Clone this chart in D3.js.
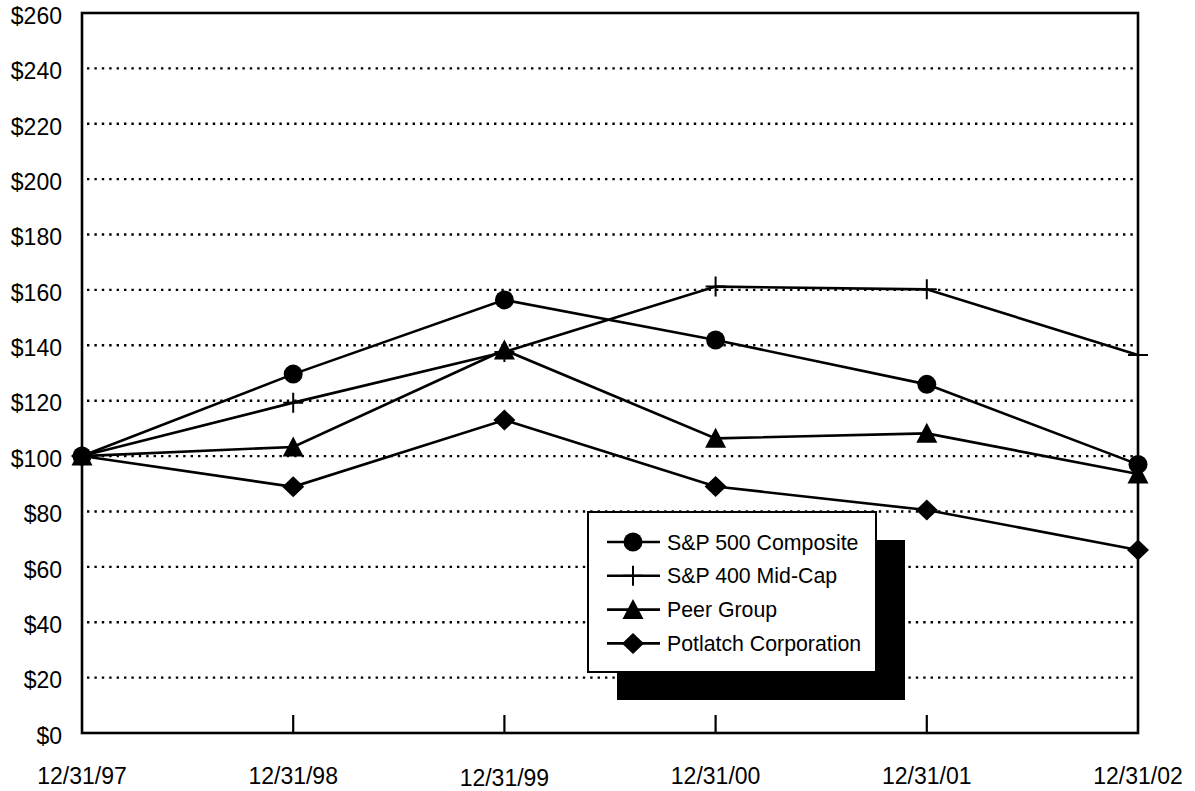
<!DOCTYPE html>
<html><head><meta charset="utf-8">
<script src="https://cdn.jsdelivr.net/npm/d3@7"></script>
<style>body{margin:0;background:#fff}svg{display:block}text{font-family:"Liberation Sans",Arial,Helvetica,sans-serif;fill:#000}</style>
</head><body>
<svg id="c" width="1195" height="791"></svg>
<script>
const categories = ["12/31/97","12/31/98","12/31/99","12/31/00","12/31/01","12/31/02"];
const sp500 = [100, 129.6, 156.4, 141.9, 125.9, 97.0];
const sp400 = [100, 119.3, 137.6, 161.2, 160.2, 136.5];
const peer = [100, 103.3, 138.3, 106.4, 108.2, 93.5];
const potlatch = [100, 88.9, 113.0, 89.0, 80.5, 66.1];
const seriesNames = ["S&P 500 Composite","S&P 400 Mid-Cap","Peer Group","Potlatch Corporation"];
const seriesValues = [sp500, sp400, peer, potlatch];
const seriesMarkers = ["circle","cross","triangle","diamond"];
const yTicks = [0,20,40,60,80,100,120,140,160,180,200,220,240,260];

const svg = d3.select("#c");
const L=82, R=1138, T=13, B=733;
const x = d3.scalePoint().domain(categories).range([L,R]);
const y = d3.scaleLinear().domain([0,260]).range([B,T]);

// gridlines
svg.append("g").selectAll("line").data(yTicks.filter(d=>d>0 && d<260)).join("line")
  .attr("x1",L+5).attr("x2",R-2).attr("y1",d=>y(d)).attr("y2",d=>y(d))
  .attr("stroke","#000").attr("stroke-width",2.4).attr("stroke-dasharray","2.4,5");

// y labels
svg.append("g").selectAll("text").data(yTicks).join("text")
  .attr("x",62).attr("y",d=>y(d)+10.8).attr("text-anchor","end")
  .attr("font-size",23).text(d=>"$"+d);

// x labels
svg.append("g").selectAll("text").data(categories).join("text")
  .attr("x",d=>x(d)).attr("y",(d,i)=>i===2?786:784).attr("text-anchor","middle")
  .attr("font-size",23).text(d=>d);

// x ticks
svg.append("g").selectAll("line").data(categories.slice(1,-1)).join("line")
  .attr("x1",d=>x(d)).attr("x2",d=>x(d)).attr("y1",B).attr("y2",B-18)
  .attr("stroke","#000").attr("stroke-width",2.2);

// frame
svg.append("rect").attr("x",L).attr("y",T).attr("width",R-L).attr("height",B-T)
  .attr("fill","none").attr("stroke","#000").attr("stroke-width",2.6);

function marker(g, type, cx, cy){
  if(type==="circle") g.append("circle").attr("cx",cx).attr("cy",cy).attr("r",9.5).attr("fill","#000");
  else if(type==="cross") g.append("path").attr("d",`M${cx-10},${cy}H${cx+10}M${cx},${cy-10}V${cy+10}`).attr("stroke","#000").attr("stroke-width",2).attr("fill","none");
  else if(type==="triangle") g.append("path").attr("d",`M${cx},${cy-10.5}L${cx+10.5},${cy+9.5}L${cx-10.5},${cy+9.5}Z`).attr("fill","#000");
  else if(type==="diamond") g.append("path").attr("d",`M${cx},${cy-10.5}L${cx+11},${cy}L${cx},${cy+10.5}L${cx-11},${cy}Z`).attr("fill","#000");
}

const line = d3.line().x((d,i)=>x(categories[i])).y(d=>y(d));
seriesValues.forEach((vals,k)=>{
  const g = svg.append("g");
  g.append("path").attr("d",line(vals)).attr("fill","none").attr("stroke","#000").attr("stroke-width",2.6);
  vals.forEach((v,i)=>marker(g, seriesMarkers[k], x(categories[i]), y(v)));
});

// legend
const lg = svg.append("g");
lg.append("rect").attr("x",617).attr("y",540).attr("width",288).attr("height",160).attr("fill","#000");
lg.append("rect").attr("x",588).attr("y",512).attr("width",288).attr("height",160).attr("fill","#fff").attr("stroke","#000").attr("stroke-width",2);
seriesNames.forEach((n,k)=>{
  const cy = 542 + k*33.8;
  lg.append("line").attr("x1",607).attr("x2",660).attr("y1",cy).attr("y2",cy).attr("stroke","#000").attr("stroke-width",2.6);
  marker(lg, seriesMarkers[k], 633, cy);
  lg.append("text").attr("x",667).attr("y",cy+7.5).attr("font-size",21.3).text(n);
});
</script>
</body></html>
